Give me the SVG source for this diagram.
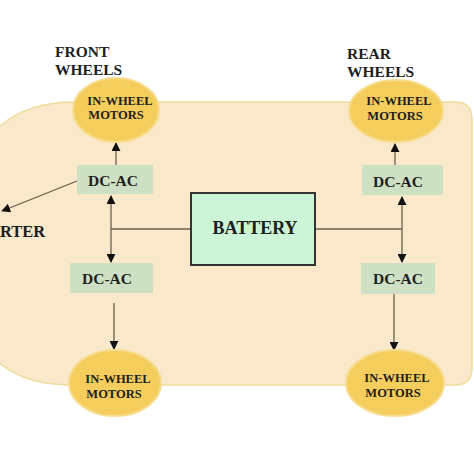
<svg xmlns="http://www.w3.org/2000/svg" width="474" height="474" viewBox="0 0 474 474">
<style>
.lbl{font-family:"Liberation Serif","Times New Roman",serif;font-weight:bold;fill:#1e1e1e}
.mot{fill:#f5cd5c;stroke:#f8dc8e;stroke-width:2}
.mt{font-size:12.5px;text-anchor:middle}
.dc{fill:#cde0c3}
.dt{font-size:15.5px;text-anchor:middle}
.ln{stroke:#6e5e4c;stroke-width:1.3;fill:none}
</style>
<defs>
<marker id="ah" viewBox="0 0 10 10" refX="9" refY="5" markerWidth="9" markerHeight="9" markerUnits="userSpaceOnUse" orient="auto">
<path d="M0,0 L10,5 L0,10 z" fill="#111"/>
</marker>
</defs>
<rect width="474" height="474" fill="#ffffff"/>
<g id="body">
<path d="M75,102 L455,102 Q472,102 472,119 L472,368 Q472,385 455,385 L75,385 C25,385 -40,372 -40,243 C-40,122 25,102 75,102 Z" fill="#f9e8c9" stroke="#eedd9c" stroke-width="1.5"/>
</g>
<g id="labels">
<text class="lbl" x="55" y="57" font-size="15.5">FRONT</text>
<text class="lbl" x="55" y="75" font-size="15.5">WHEELS</text>
<text class="lbl" x="347" y="59" font-size="15.5">REAR</text>
<text class="lbl" x="347" y="77" font-size="15.5">WHEELS</text>
<text class="lbl" x="0" y="237" font-size="16.5">RTER</text>
</g>
<g id="connectors">
<line class="ln" x1="116" y1="165" x2="116" y2="143" marker-end="url(#ah)"/>
<line class="ln" x1="77" y1="181" x2="2" y2="211" marker-end="url(#ah)"/>
<line class="ln" x1="111" y1="229" x2="111" y2="196" marker-end="url(#ah)"/>
<line class="ln" x1="111" y1="229" x2="111" y2="262" marker-end="url(#ah)"/>
<line class="ln" x1="111" y1="229" x2="191" y2="229"/>
<line class="ln" x1="114" y1="303" x2="114" y2="349" marker-end="url(#ah)"/>
<line class="ln" x1="395" y1="165" x2="395" y2="144" marker-end="url(#ah)"/>
<line class="ln" x1="402" y1="229" x2="402" y2="197" marker-end="url(#ah)"/>
<line class="ln" x1="402" y1="229" x2="402" y2="262" marker-end="url(#ah)"/>
<line class="ln" x1="315" y1="229" x2="402" y2="229"/>
<line class="ln" x1="394" y1="294" x2="394" y2="350" marker-end="url(#ah)"/>
</g>
<g id="motor-front-top">
<ellipse class="mot" cx="116" cy="110" rx="43" ry="32"/>
<text class="lbl mt" x="120" y="105">IN-WHEEL</text>
<text class="lbl mt" x="116" y="119">MOTORS</text>
</g>
<g id="motor-rear-top">
<ellipse class="mot" cx="396" cy="111" rx="47" ry="31"/>
<text class="lbl mt" x="399" y="105">IN-WHEEL</text>
<text class="lbl mt" x="395" y="120">MOTORS</text>
</g>
<g id="motor-front-bottom">
<ellipse class="mot" cx="115" cy="383" rx="46" ry="33"/>
<text class="lbl mt" x="118" y="383">IN-WHEEL</text>
<text class="lbl mt" x="114" y="398">MOTORS</text>
</g>
<g id="motor-rear-bottom">
<ellipse class="mot" cx="395" cy="383" rx="49" ry="33"/>
<text class="lbl mt" x="397" y="382">IN-WHEEL</text>
<text class="lbl mt" x="393" y="397">MOTORS</text>
</g>
<g id="dcac-front-top">
<rect class="dc" x="77" y="165" width="76" height="29"/>
<text class="lbl dt" x="113" y="186">DC-AC</text>
</g>
<g id="dcac-rear-top">
<rect class="dc" x="362" y="165" width="81" height="30"/>
<text class="lbl dt" x="398" y="187">DC-AC</text>
</g>
<g id="dcac-front-bottom">
<rect class="dc" x="70" y="263" width="83" height="30"/>
<text class="lbl dt" x="107" y="284">DC-AC</text>
</g>
<g id="dcac-rear-bottom">
<rect class="dc" x="361" y="263" width="74" height="31"/>
<text class="lbl dt" x="398" y="284">DC-AC</text>
</g>
<g id="battery">
<rect x="191" y="193" width="124" height="72" fill="#cbf5d6" stroke="#333" stroke-width="2"/>
<text class="lbl" x="255" y="234" font-size="18" text-anchor="middle">BATTERY</text>
</g>
</svg>
